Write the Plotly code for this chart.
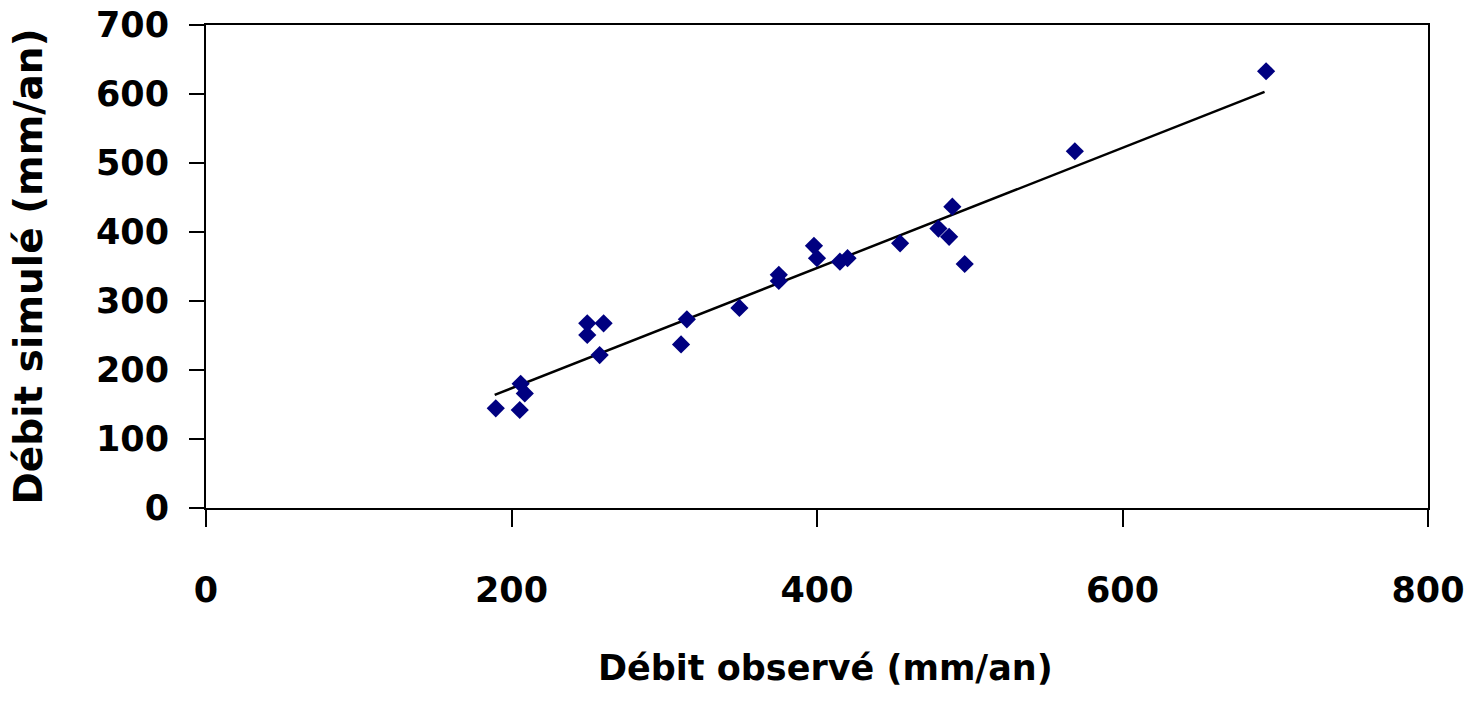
import plotly.graph_objects as go

# Observed vs simulated annual discharge (mm/an)
obs = [189.7, 205.4, 206.0, 208.7, 249.6, 249.6, 260.3, 257.7, 311.0, 314.8,
       349.2, 375.0, 375.0, 398.0, 400.0, 415.0, 420.0, 454.4, 479.5, 486.5,
       488.6, 496.7, 568.8, 694.0]
sim = [144.5, 142.0, 180.0, 166.0, 267.7, 250.7, 267.7, 221.7, 237.0, 273.5,
       290.0, 338.0, 329.0, 380.0, 362.0, 357.0, 362.0, 383.6, 405.0, 393.0,
       436.7, 353.6, 517.0, 633.0]

# Trend line end points
trend_x = [189.0, 693.0]
trend_y = [164.0, 603.0]

x_ticks = [0, 200, 400, 600, 800]
y_ticks = [0, 100, 200, 300, 400, 500, 600, 700]

FONT = "DejaVu Sans"

fig = go.Figure()
fig.add_trace(go.Scatter(x=trend_x, y=trend_y, mode="lines",
                         line=dict(color="black", width=2.5),
                         showlegend=False, hoverinfo="skip"))
fig.add_trace(go.Scatter(x=obs, y=sim, mode="markers",
                         marker=dict(symbol="diamond", size=14, color="#000080",
                                     line=dict(width=0)),
                         showlegend=False))

fig.update_layout(
    width=1472, height=707,
    margin=dict(l=206, r=44, t=25, b=199),
    paper_bgcolor="white", plot_bgcolor="white",
    font=dict(family=FONT, color="black"),
    xaxis=dict(range=[0, 800], tickvals=x_ticks, ticktext=[str(v) for v in x_ticks],
               showgrid=False, zeroline=False, showline=True, mirror=True,
               linecolor="black", linewidth=2, ticks="outside", ticklen=17,
               tickwidth=2, tickcolor="black", ticklabelstandoff=33,
               automargin=False,
               tickfont=dict(family=FONT, size=35, color="black", weight="bold")),
    yaxis=dict(range=[0, 700], tickvals=y_ticks, ticktext=[str(v) for v in y_ticks],
               showgrid=False, zeroline=False, showline=True, mirror=True,
               linecolor="black", linewidth=2, ticks="outside", ticklen=15,
               tickwidth=2, tickcolor="black", ticklabelstandoff=13,
               automargin=False,
               tickfont=dict(family=FONT, size=35, color="black", weight="bold")),
    annotations=[
        dict(text="Débit observé (mm/an)", xref="paper", yref="paper",
             x=(825 - 206) / (1472 - 206 - 44), y=-(668 - 508) / (707 - 25 - 199),
             xanchor="center", yanchor="middle", showarrow=False,
             font=dict(family=FONT, size=35, color="black", weight="bold")),
        dict(text="Débit simulé (mm/an)", xref="paper", yref="paper",
             x=-(206 - 28) / (1472 - 206 - 44), y=0.5, textangle=-90,
             xanchor="center", yanchor="middle", showarrow=False,
             font=dict(family=FONT, size=39, color="black", weight="bold")),
    ],
)

fig.write_html("out.html")
